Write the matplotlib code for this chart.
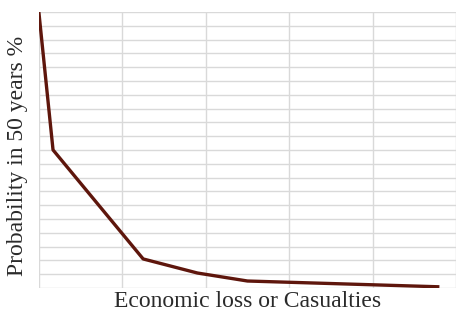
import matplotlib.pyplot as plt
from matplotlib.ticker import MultipleLocator

# loss (arbitrary units) vs probability in 50 years (%)
loss = [0, 1.7, 12.5, 19.0, 25.0, 48.0]
prob = [100, 50, 10.5, 5.4, 2.5, 0.4]

fig = plt.figure(figsize=(4.57, 3.15), dpi=100)
ax = fig.add_axes([0.085, 0.086, 0.913, 0.876])

ax.plot(loss, prob, color="#5e160c", linewidth=2.4, solid_capstyle="butt", zorder=3)

ax.set_xlim(0, 50)
ax.set_ylim(0, 100)
ax.xaxis.set_major_locator(MultipleLocator(10))
ax.yaxis.set_major_locator(MultipleLocator(5))
ax.grid(True, color="#d9d9d9", linewidth=1.0)
ax.tick_params(length=0, labelbottom=False, labelleft=False)
for s in ax.spines.values():
    s.set_visible(False)

font = dict(family="Liberation Serif", size=17, color="#2a2a2a")
ax.set_xlabel("Economic loss or Casualties", labelpad=2, **font)
ax.set_ylabel("Probability in 50 years %", **font)
ax.yaxis.set_label_coords(-0.026, 0.48)

fig.savefig("out.png", dpi=100)
